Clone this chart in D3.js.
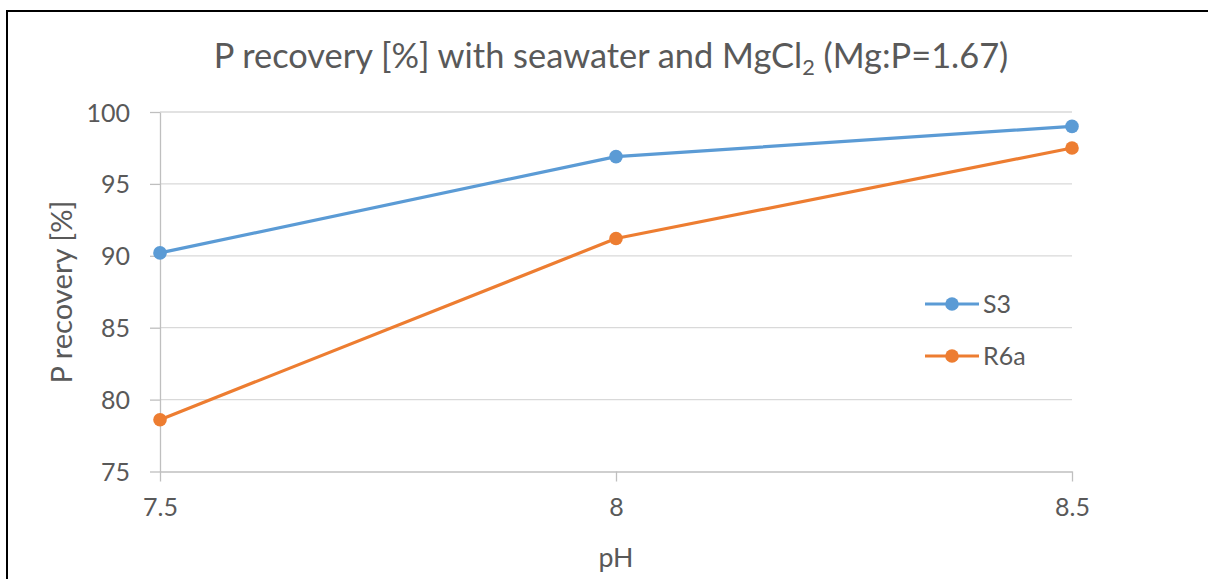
<!DOCTYPE html>
<html>
<head>
<meta charset="utf-8">
<script src="https://cdn.jsdelivr.net/npm/d3@7"></script>
<style>
  html, body { margin: 0; padding: 0; background: #fff; }
  svg { display: block; }
  text { font-family: Lato, "Open Sans", sans-serif; fill: #595959; }
</style>
</head>
<body>
<svg id="chart" width="1208" height="579"></svg>
<script>
// pH levels tested
const phLevels = [7.5, 8, 8.5];
const xTickLabels = ["7.5", "8", "8.5"];
// P recovery [%] per series
const seriesNames = ["S3", "R6a"];
const s3Values = [90.2, 96.9, 99.0];
const r6aValues = [78.6, 91.2, 97.5];
const yTicks = [75, 80, 85, 90, 95, 100];
const seriesColors = ["#5b9bd5", "#ed7d31"];

const svg = d3.select("#chart");

// scale a text element's font so that it spans the given width
function fitWidth(sel, base, target) {
  const w = sel.node().getComputedTextLength();
  const s = target / w;
  sel.attr("font-size", base * s);
  return s;
}

// outer frame (left and top edges)
svg.append("path")
  .attr("d", "M7,579 V11 H1208")
  .attr("fill", "none")
  .attr("stroke", "#000")
  .attr("stroke-width", 2);

const x = d3.scaleLinear().domain([7.5, 8.5]).range([160, 1072]);
const y = d3.scaleLinear().domain([75, 100]).range([471.5, 112]);

// horizontal gridlines
svg.append("g")
  .selectAll("line")
  .data(yTicks.slice(1))
  .join("line")
  .attr("x1", x(7.5)).attr("x2", x(8.5))
  .attr("y1", d => y(d)).attr("y2", d => y(d))
  .attr("stroke", "#d9d9d9").attr("stroke-width", 1.3);

// y axis
const yAxis = svg.append("g")
  .attr("transform", `translate(${x(7.5)},0)`)
  .call(d3.axisLeft(y).tickValues(yTicks).tickSize(10).tickPadding(20).tickSizeOuter(0));
yAxis.select(".domain").attr("stroke", "#bfbfbf").attr("stroke-width", 1.3);
yAxis.selectAll(".tick line").attr("stroke", "#bfbfbf").attr("stroke-width", 1.3);
yAxis.selectAll(".tick text")
  .style("font-family", "Lato, 'Open Sans', sans-serif")
  .attr("font-size", 25).attr("fill", "#595959").attr("dy", "0.36em");

// x axis
const xAxis = svg.append("g")
  .attr("transform", `translate(0,${y(75)})`)
  .call(d3.axisBottom(x).tickValues(phLevels).tickFormat((d, i) => xTickLabels[i])
    .tickSize(10).tickPadding(17).tickSizeOuter(0));
xAxis.select(".domain").attr("stroke", "#bfbfbf").attr("stroke-width", 1.3);
xAxis.selectAll(".tick line").attr("stroke", "#bfbfbf").attr("stroke-width", 1.3);
xAxis.selectAll(".tick text")
  .style("font-family", "Lato, 'Open Sans', sans-serif")
  .attr("font-size", 25).attr("fill", "#595959");

// series lines and markers
const seriesData = [s3Values, r6aValues];
const line = d3.line().x((d, i) => x(phLevels[i])).y(d => y(d));
seriesData.forEach((vals, k) => {
  svg.append("path")
    .datum(vals)
    .attr("d", line)
    .attr("fill", "none")
    .attr("stroke", seriesColors[k])
    .attr("stroke-width", 3.2)
    .attr("stroke-linejoin", "round");
  svg.append("g")
    .selectAll("circle")
    .data(vals)
    .join("circle")
    .attr("cx", (d, i) => x(phLevels[i]))
    .attr("cy", d => y(d))
    .attr("r", 6.8)
    .attr("fill", seriesColors[k]);
});

// legend
const legend = svg.append("g");
seriesNames.forEach((name, k) => {
  const ly = 304 + k * 52;
  legend.append("line")
    .attr("x1", 925).attr("x2", 979).attr("y1", ly).attr("y2", ly)
    .attr("stroke", seriesColors[k]).attr("stroke-width", 3.2);
  legend.append("circle")
    .attr("cx", 952).attr("cy", ly).attr("r", 6.8).attr("fill", seriesColors[k]);
  legend.append("text")
    .attr("x", 983).attr("y", ly).attr("dy", "0.36em")
    .attr("font-size", 25).text(name);
});

// title
const title = svg.append("text")
  .attr("x", 611).attr("y", 68)
  .attr("text-anchor", "middle")
  .attr("font-size", 30);
title.append("tspan").text("P recovery [%] with seawater and MgCl");
const sub = title.append("tspan").attr("font-size", 19).attr("dy", 7).text("2");
title.append("tspan").attr("dy", -7).text(" (Mg:P=1.67)");
const ts = fitWidth(title, 30, 795);
sub.attr("font-size", 19 * ts);

// axis titles
const yTitle = svg.append("text")
  .attr("transform", "translate(72,292) rotate(-90)")
  .attr("text-anchor", "middle")
  .attr("font-size", 28)
  .text("P recovery [%]");
fitWidth(yTitle, 28, 183);

const xTitle = svg.append("text")
  .attr("x", 616).attr("y", 567)
  .attr("text-anchor", "middle")
  .attr("font-size", 28)
  .text("pH");
fitWidth(xTitle, 28, 35);
</script>
</body>
</html>
